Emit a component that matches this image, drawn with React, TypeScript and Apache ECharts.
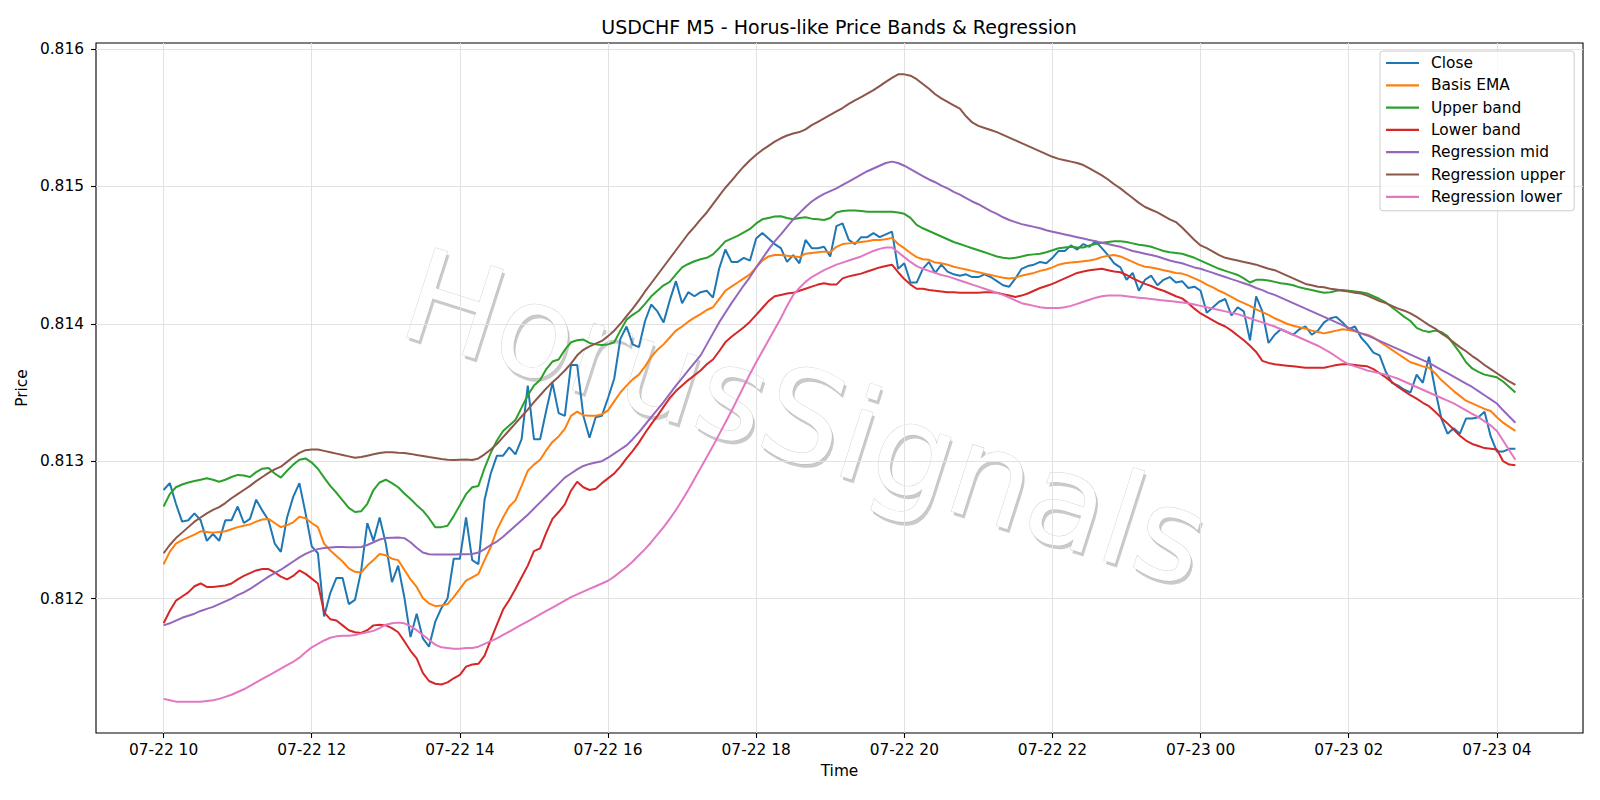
import React, { useEffect, useRef } from "react";
import * as echarts from "echarts";

// 5-minute bars from 07-22 10:00 (minutes since start)
const closeSeries = [
  0.81279,0.81284,0.81269,0.81256,0.81257,0.81262,0.81257,0.81242,0.81247,0.81242,
  0.81257,0.81257,0.81267,0.81255,0.81258,0.81272,0.81264,0.81257,0.8124,0.81234,
  0.81259,0.81274,0.81284,0.81262,0.81238,0.81233,0.81187,0.81204,0.81215,0.81215,
  0.81196,0.81199,0.8122,0.81255,0.81242,0.81259,0.8124,0.81212,0.81224,0.81201,
  0.81172,0.81189,0.81171,0.81165,0.81183,0.81193,0.812,0.81229,0.81229,0.81259,
  0.81228,0.81225,0.81272,0.81291,0.81304,0.81304,0.8131,0.81305,0.81316,0.81355,
  0.81316,0.81316,0.81337,0.81357,0.81335,0.81333,0.8137,0.8137,0.81333,0.81317,
  0.81332,0.81333,0.81346,0.8136,0.81389,0.81398,0.81385,0.81383,0.81402,0.81414,
  0.81409,0.81401,0.81417,0.81431,0.81415,0.81423,0.8142,0.81423,0.81424,0.81419,
  0.8144,0.81454,0.81445,0.81445,0.81448,0.81446,0.81462,0.81466,0.81462,0.81458,
  0.81455,0.81445,0.8145,0.81444,0.81461,0.81455,0.81455,0.81456,0.81449,0.81471,
  0.81473,0.81461,0.81458,0.81463,0.81463,0.81466,0.81463,0.81465,0.81467,0.8144,
  0.81444,0.8143,0.8143,0.8144,0.81445,0.81437,0.81443,0.81438,0.81436,0.81435,
  0.81436,0.81434,0.81434,0.81436,0.81434,0.81431,0.81428,0.81427,0.81433,0.8144,
  0.81442,0.81443,0.81445,0.81444,0.81448,0.81453,0.81453,0.81457,0.81454,0.81458,
  0.81456,0.8146,0.81455,0.8145,0.81444,0.81441,0.81432,0.81437,0.81424,0.81432,
  0.81435,0.81428,0.81432,0.81434,0.8143,0.81431,0.81426,0.81427,0.81424,0.81408,
  0.81412,0.81416,0.81418,0.81406,0.81412,0.81409,0.81388,0.8142,0.81409,0.81386,
  0.81392,0.81396,0.81394,0.81392,0.81396,0.81398,0.81392,0.81395,0.81401,0.81404,
  0.81405,0.81401,0.81396,0.81398,0.8139,0.81385,0.81379,0.81377,0.81365,0.81357,
  0.81355,0.81352,0.8135,0.81363,0.81357,0.81376,0.81352,0.81331,0.8132,0.81324,
  0.8132,0.81331,0.81331,0.81332,0.81336,0.81318,0.81307,0.81307,0.81309,0.81309,
];

const basisEma = [
  0.81225,0.81234,0.8124,0.812425,0.812445,0.812465,0.81249,0.812485,0.81248,0.812485,
  0.81249,0.812505,0.81252,0.81253,0.81254,0.81256,0.812575,0.81258,0.81255,0.81252,
  0.812535,0.812555,0.812595,0.812585,0.81255,0.81252,0.8124,0.81235,0.81231,0.81227,
  0.81222,0.812195,0.81219,0.81224,0.81228,0.812325,0.812315,0.81229,0.81228,0.81221,
  0.81214,0.812085,0.812005,0.811965,0.811945,0.81195,0.81196,0.81201,0.81207,0.81213,
  0.812155,0.81218,0.81228,0.812375,0.8125,0.81259,0.81267,0.812715,0.81282,0.81293,
  0.812975,0.81301,0.81308,0.81314,0.81318,0.813235,0.81333,0.81336,0.813335,0.81333,
  0.81333,0.81334,0.81337,0.813435,0.8135,0.81355,0.813595,0.81363,0.81369,0.81376,
  0.81381,0.81385,0.8139,0.81395,0.81398,0.814015,0.814045,0.81407,0.8141,0.81412,
  0.81418,0.81424,0.81427,0.8143,0.81433,0.81436,0.81441,0.81446,0.81449,0.8145,
  0.8145,0.814495,0.81449,0.814485,0.81451,0.814515,0.81452,0.814525,0.81452,0.81456,
  0.81458,0.814585,0.81459,0.814595,0.8146,0.81461,0.81461,0.814615,0.814625,0.81458,
  0.81455,0.814515,0.814485,0.81447,0.814465,0.814445,0.81444,0.81443,0.814415,0.814405,
  0.814395,0.814385,0.814375,0.814365,0.814355,0.814345,0.814335,0.81433,0.814335,0.81435,
  0.81436,0.81437,0.814385,0.814395,0.81441,0.81443,0.81444,0.814445,0.81445,0.814455,
  0.81446,0.81447,0.814485,0.814495,0.8145,0.81449,0.81447,0.81445,0.81443,0.814415,
  0.81441,0.8144,0.81439,0.81438,0.81437,0.814365,0.81435,0.81433,0.81431,0.814285,
  0.814265,0.81424,0.81422,0.814195,0.81417,0.81415,0.81413,0.814105,0.814085,0.814065,
  0.81404,0.81402,0.814,0.813985,0.813975,0.813965,0.81395,0.81394,0.81393,0.81394,
  0.81395,0.81396,0.813955,0.813945,0.81393,0.81392,0.8139,0.81387,0.81384,0.81381,
  0.81378,0.81375,0.81372,0.813705,0.81369,0.81368,0.81364,0.81359,0.81355,0.81351,
  0.813475,0.81344,0.81342,0.8134,0.81338,0.813365,0.81332,0.81328,0.81325,0.81322,
];

const upperBand = [
  0.81267,0.81276,0.81281,0.81283,0.812845,0.812855,0.812865,0.812875,0.812865,0.81285,
  0.812865,0.812885,0.8129,0.812895,0.812885,0.81292,0.812945,0.81295,0.81291,0.81288,
  0.81293,0.812975,0.81301,0.81302,0.81299,0.812945,0.81288,0.81282,0.81277,0.812715,
  0.81266,0.81263,0.812635,0.81269,0.81279,0.812845,0.812865,0.81284,0.81281,0.812765,
  0.812725,0.81268,0.81264,0.812585,0.81252,0.81252,0.81253,0.8126,0.81268,0.81276,
  0.81281,0.81282,0.81295,0.81306,0.81315,0.81322,0.81326,0.8133,0.81339,0.81348,
  0.81355,0.81359,0.81367,0.813725,0.81374,0.81381,0.813865,0.81388,0.813885,0.81386,
  0.81385,0.813845,0.81385,0.813865,0.81395,0.81403,0.814065,0.814095,0.814145,0.8142,
  0.81424,0.81428,0.814305,0.81436,0.81441,0.814435,0.814455,0.81447,0.81448,0.814505,
  0.81455,0.8146,0.81462,0.81464,0.814665,0.81469,0.81473,0.81476,0.81477,0.81478,
  0.814783,0.81477,0.81476,0.81477,0.814775,0.814765,0.81476,0.814755,0.81477,0.81481,
  0.81482,0.814825,0.814825,0.81482,0.814815,0.814815,0.814815,0.814815,0.814815,0.81481,
  0.8148,0.81477,0.81472,0.814695,0.814675,0.814655,0.814635,0.814615,0.814595,0.81458,
  0.814565,0.81455,0.814535,0.81452,0.814505,0.81449,0.81448,0.814475,0.81448,0.81449,
  0.8145,0.814505,0.81451,0.81452,0.814535,0.81455,0.814555,0.81456,0.814555,0.814555,
  0.81457,0.81458,0.81459,0.814595,0.8146,0.8146,0.814595,0.814585,0.814575,0.81457,
  0.81456,0.814545,0.81453,0.81452,0.814515,0.81451,0.814495,0.81448,0.81446,0.81444,
  0.81442,0.8144,0.814385,0.81437,0.814355,0.81433,0.8143,0.81432,0.81432,0.814315,
  0.814305,0.814295,0.81429,0.81428,0.814265,0.814255,0.814245,0.814235,0.814225,0.81423,
  0.81424,0.814245,0.81424,0.814235,0.81423,0.81422,0.8142,0.81418,0.814155,0.81412,
  0.814085,0.81405,0.81402,0.81397,0.81395,0.81394,0.81395,0.81394,0.81391,0.81385,
  0.81379,0.81372,0.813675,0.81365,0.81363,0.81362,0.81361,0.81358,0.81354,0.8135,
];

const lowerBand = [
  0.81182,0.81191,0.811985,0.812015,0.812045,0.81209,0.81211,0.812085,0.812085,0.81209,
  0.812095,0.81211,0.81214,0.812165,0.812185,0.812205,0.812215,0.812215,0.81219,0.81216,
  0.81214,0.812165,0.812205,0.81218,0.812145,0.81211,0.8119,0.81185,0.81184,0.811805,
  0.81177,0.811755,0.81175,0.81177,0.811805,0.81181,0.811805,0.811785,0.811755,0.81169,
  0.81162,0.811565,0.81146,0.8114,0.81138,0.811375,0.81139,0.81142,0.811445,0.811505,
  0.81152,0.811525,0.811585,0.8117,0.81181,0.81192,0.81199,0.81207,0.812155,0.81224,
  0.812345,0.812365,0.81248,0.81258,0.81263,0.812685,0.812785,0.81285,0.81281,0.81279,
  0.8128,0.81284,0.812875,0.81291,0.81296,0.81302,0.813075,0.813135,0.813205,0.81327,
  0.81333,0.813395,0.81346,0.81351,0.81355,0.81359,0.813625,0.81366,0.813705,0.81374,
  0.8138,0.813865,0.813905,0.81394,0.813975,0.814015,0.814065,0.814115,0.814165,0.8142,
  0.81421,0.81422,0.814225,0.81424,0.814255,0.81427,0.814285,0.814295,0.814285,0.814285,
  0.81433,0.814345,0.814355,0.814365,0.81438,0.814395,0.81441,0.81442,0.81443,0.814375,
  0.814325,0.814285,0.814255,0.814255,0.814245,0.81424,0.814235,0.81423,0.81423,0.814225,
  0.814225,0.814225,0.814225,0.81423,0.81423,0.814225,0.814215,0.814205,0.814195,0.814205,
  0.81422,0.81424,0.81426,0.814275,0.81429,0.81431,0.81433,0.81435,0.81437,0.81438,
  0.81439,0.814395,0.8144,0.81439,0.81438,0.814375,0.814355,0.81433,0.81431,0.81429,
  0.814275,0.814255,0.81424,0.81422,0.8142,0.814185,0.81415,0.81411,0.814075,0.81405,
  0.814025,0.814,0.81398,0.81395,0.813915,0.81388,0.81384,0.813795,0.81373,0.813715,
  0.813705,0.8137,0.813695,0.81369,0.813685,0.81368,0.81368,0.81368,0.81368,0.81369,
  0.8137,0.813705,0.813705,0.8137,0.813695,0.81369,0.81367,0.81364,0.81361,0.813575,
  0.81354,0.81351,0.81348,0.813455,0.813425,0.8134,0.81336,0.813315,0.813275,0.81323,
  0.813185,0.81315,0.813125,0.81311,0.813095,0.81309,0.813085,0.813,0.812975,0.81297,
];

const regressionMid = [
  0.811805,0.81182,0.81184,0.81186,0.811875,0.81189,0.81191,0.811925,0.81194,0.81196,
  0.81198,0.812,0.812025,0.812045,0.81207,0.8121,0.81213,0.81216,0.812185,0.81221,
  0.81224,0.81227,0.8123,0.812325,0.812345,0.81236,0.812368,0.812372,0.812375,0.812375,
  0.812373,0.812373,0.812375,0.81239,0.81241,0.81243,0.81244,0.812443,0.812445,0.81244,
  0.81241,0.81237,0.812335,0.812323,0.81232,0.81232,0.81232,0.81232,0.812322,0.812322,
  0.812325,0.812335,0.81236,0.81239,0.812415,0.81245,0.81249,0.81253,0.81257,0.81261,
  0.812655,0.8127,0.812745,0.81279,0.812835,0.81288,0.81291,0.81294,0.812965,0.81298,
  0.81299,0.813,0.813025,0.813055,0.813085,0.813115,0.81316,0.81321,0.813265,0.81332,
  0.813375,0.81343,0.81349,0.81355,0.813605,0.81366,0.813715,0.81377,0.81385,0.81393,
  0.81401,0.81408,0.81415,0.814215,0.81428,0.81434,0.81441,0.814475,0.81454,0.8146,
  0.81465,0.814705,0.81476,0.814805,0.81485,0.81489,0.81492,0.814945,0.814965,0.814985,
  0.81501,0.815035,0.81506,0.815085,0.81511,0.81513,0.81515,0.81517,0.81518,0.81517,
  0.81515,0.815125,0.8151,0.815075,0.81505,0.81503,0.815005,0.814985,0.81496,0.81494,
  0.814915,0.81489,0.81487,0.814845,0.81482,0.8148,0.814775,0.814755,0.81474,0.814725,
  0.814715,0.814705,0.814695,0.81468,0.81467,0.81466,0.81465,0.81464,0.81463,0.81462,
  0.81461,0.8146,0.81459,0.81458,0.81457,0.81456,0.814545,0.81453,0.81452,0.81451,
  0.8145,0.81449,0.814475,0.81446,0.81445,0.81444,0.814425,0.81441,0.8144,0.814385,
  0.81437,0.814355,0.81434,0.814325,0.81431,0.814295,0.81428,0.81426,0.814245,0.814225,
  0.81421,0.81419,0.81417,0.81415,0.81413,0.81411,0.81409,0.81407,0.81405,0.81403,
  0.81401,0.81399,0.81397,0.81395,0.81393,0.813915,0.813895,0.813875,0.813855,0.813835,
  0.813815,0.813795,0.813775,0.813755,0.813735,0.813715,0.81369,0.813665,0.81364,0.813615,
  0.81359,0.813565,0.81354,0.81351,0.81348,0.81345,0.81342,0.81337,0.813325,0.81328,
];

const regressionUpper = [
  0.81233,0.81239,0.81244,0.81248,0.81252,0.81256,0.81259,0.81262,0.812645,0.812665,
  0.812695,0.81273,0.81276,0.81279,0.81282,0.812855,0.812885,0.812915,0.81294,0.81296,
  0.812995,0.81303,0.81306,0.81308,0.813085,0.813085,0.813075,0.813065,0.813055,0.813045,
  0.813035,0.813025,0.81303,0.81304,0.81305,0.81306,0.813065,0.813065,0.813062,0.81306,
  0.813053,0.813045,0.813038,0.81303,0.813023,0.813015,0.81301,0.813008,0.81301,0.813012,
  0.813008,0.81302,0.81305,0.813085,0.813125,0.813175,0.813225,0.813275,0.813325,0.813375,
  0.81343,0.81348,0.81353,0.813575,0.813615,0.81366,0.81371,0.81377,0.81381,0.813835,
  0.813855,0.813875,0.81391,0.81395,0.814,0.814055,0.81411,0.81417,0.814235,0.814295,
  0.814355,0.814415,0.814475,0.814535,0.814595,0.814655,0.814705,0.81476,0.81481,0.81487,
  0.81493,0.81499,0.81504,0.815095,0.815145,0.81519,0.81523,0.815265,0.815295,0.815325,
  0.81535,0.81537,0.815385,0.815395,0.815415,0.815445,0.81547,0.815495,0.81552,0.815545,
  0.81557,0.8156,0.815625,0.81565,0.815675,0.8157,0.81573,0.81576,0.81579,0.815815,
  0.815815,0.815805,0.81578,0.815745,0.81571,0.81567,0.81564,0.815615,0.81559,0.815565,
  0.81551,0.815465,0.81544,0.815425,0.81541,0.815395,0.815375,0.815355,0.815335,0.815315,
  0.815295,0.815275,0.815255,0.815235,0.815215,0.8152,0.81519,0.81518,0.81517,0.815155,
  0.81513,0.815105,0.81508,0.81505,0.815015,0.814985,0.81495,0.814915,0.81488,0.81485,
  0.81483,0.81481,0.814785,0.81476,0.81474,0.8147,0.814655,0.81461,0.81457,0.81455,
  0.814525,0.8145,0.81448,0.81447,0.81446,0.81445,0.81444,0.81443,0.814415,0.8144,
  0.81439,0.81437,0.81435,0.81433,0.81431,0.81429,0.81428,0.81427,0.814265,0.814255,
  0.81425,0.81424,0.814235,0.814225,0.81422,0.814205,0.814185,0.814165,0.81415,0.81413,
  0.81411,0.814095,0.814075,0.81405,0.81402,0.81399,0.813965,0.81393,0.8139,0.813865,
  0.81383,0.8138,0.813765,0.813735,0.8137,0.81367,0.81364,0.81361,0.81358,0.813555,
];

const regressionLower = [
  0.81127,0.81126,0.81125,0.81125,0.81125,0.81125,0.81125,0.811255,0.81126,0.81127,
  0.811285,0.8113,0.81132,0.81134,0.811365,0.81139,0.811415,0.81144,0.811465,0.81149,
  0.811515,0.81154,0.81157,0.81161,0.811645,0.81167,0.811695,0.811715,0.811725,0.81173,
  0.81173,0.811735,0.811745,0.811755,0.811765,0.811785,0.81181,0.81182,0.811825,0.81182,
  0.8118,0.81177,0.811735,0.8117,0.811665,0.811645,0.81164,0.811635,0.811635,0.81164,
  0.81164,0.81165,0.81167,0.81169,0.81171,0.811735,0.81176,0.811785,0.81181,0.811835,
  0.81186,0.811885,0.81191,0.811935,0.81196,0.811985,0.81201,0.81203,0.81205,0.81207,
  0.81209,0.81211,0.81213,0.81216,0.812195,0.81223,0.81227,0.812315,0.81236,0.81241,
  0.812465,0.81252,0.81258,0.812645,0.812715,0.81279,0.81287,0.81295,0.81303,0.81311,
  0.813195,0.81328,0.813365,0.813455,0.813545,0.813635,0.81372,0.8138,0.81388,0.81396,
  0.81404,0.81413,0.81421,0.81426,0.814305,0.81434,0.814365,0.81439,0.81441,0.81443,
  0.814445,0.81446,0.814475,0.81449,0.81451,0.81453,0.814545,0.814555,0.814555,0.81452,
  0.814485,0.81445,0.81442,0.8144,0.814385,0.81437,0.814355,0.814345,0.81433,0.814315,
  0.8143,0.814285,0.81427,0.814255,0.81424,0.814225,0.81421,0.81419,0.81417,0.81415,
  0.81414,0.81413,0.81412,0.814115,0.814115,0.814115,0.81412,0.81413,0.814145,0.81416,
  0.814175,0.81419,0.8142,0.814205,0.814205,0.814205,0.8142,0.814195,0.81419,0.814185,
  0.81418,0.814175,0.81417,0.814165,0.81416,0.814155,0.81415,0.81414,0.81413,0.81412,
  0.81411,0.8141,0.81409,0.81408,0.81407,0.814055,0.81404,0.814025,0.81401,0.813995,
  0.81398,0.81396,0.81394,0.81392,0.8139,0.81388,0.81386,0.81384,0.813815,0.81379,
  0.81376,0.81373,0.813705,0.81369,0.813675,0.81366,0.81365,0.81364,0.81363,0.813615,
  0.8136,0.81358,0.81356,0.81354,0.81352,0.8135,0.81348,0.81346,0.81344,0.81342,
  0.813395,0.81337,0.813345,0.81332,0.81329,0.81326,0.81322,0.81315,0.81308,0.81301,
];

const barMinutes = 5;
const xTickValues = [0, 120, 240, 360, 480, 600, 720, 840, 960, 1080];
const xTickLabels = [
  "07-22 10", "07-22 12", "07-22 14", "07-22 16", "07-22 18",
  "07-22 20", "07-22 22", "07-23 00", "07-23 02", "07-23 04",
];
const yTickValues = [0.812, 0.813, 0.814, 0.815, 0.816];

const seriesNames = [
  "Close", "Basis EMA", "Upper band", "Lower band",
  "Regression mid", "Regression upper", "Regression lower",
];
const seriesColors = ["#1f77b4", "#ff7f0e", "#2ca02c", "#d62728", "#9467bd", "#8c564b", "#e377c2"];
const seriesValues = [closeSeries, basisEma, upperBand, lowerBand, regressionMid, regressionUpper, regressionLower];

const FONT = "DejaVu Sans, Liberation Sans, sans-serif";

export default function App() {
  const ref = useRef<HTMLDivElement>(null);
  useEffect(() => {
    document.body.style.margin = "0";
    if (!ref.current) return;
    const chart = echarts.init(ref.current, null, { renderer: "svg" });

    const n = closeSeries.length;
    const xMaxData = (n - 1) * barMinutes;
    const xPad = xMaxData * 0.05;
    let lo = Infinity, hi = -Infinity;
    seriesValues.forEach((arr) => arr.forEach((v) => { lo = Math.min(lo, v); hi = Math.max(hi, v); }));
    const yPad = (hi - lo) * 0.05;

    const series = seriesValues.map((arr, k) => ({
      name: seriesNames[k],
      type: "line",
      data: arr.map((v, i) => [i * barMinutes, v]),
      symbol: "none",
      showSymbol: false,
      lineStyle: { width: 2, color: seriesColors[k] },
      itemStyle: { color: seriesColors[k] },
      emphasis: { disabled: true },
      z: 2,
    }));

    const option: any = {
      animation: false,
      backgroundColor: "#ffffff",
      textStyle: { fontFamily: FONT },
      grid: {
        left: 96, right: 17, top: 43, bottom: 67,
        show: true, borderColor: "#000", borderWidth: 1.1, backgroundColor: "transparent",
        containLabel: false, outerBoundsMode: "none",
      },
      legend: {
        orient: "vertical",
        left: 1380, top: 51,
        padding: [4, 9, 6, 6],
        icon: "rect",
        itemWidth: 33, itemHeight: 2.2, itemGap: 6.3,
        backgroundColor: "rgba(255,255,255,0.8)",
        borderColor: "#cccccc", borderWidth: 1, borderRadius: 3,
        textStyle: { fontFamily: FONT, fontSize: 15.4, color: "#000", lineHeight: 16, padding: [0, 0, 0, 7] },
        data: seriesNames,
        selectedMode: false,
      },
      xAxis: {
        type: "value",
        min: -xPad, max: xMaxData + xPad,
        name: "Time", nameLocation: "middle", nameGap: 30,
        nameTextStyle: { fontFamily: FONT, fontSize: 15.4, color: "#000" },
        axisLine: { show: false, onZero: false },
        axisTick: { show: true, inside: false, length: 5, lineStyle: { color: "#000", width: 1.1 }, customValues: xTickValues },
        axisLabel: {
          customValues: xTickValues, margin: 9, color: "#000", fontFamily: FONT, fontSize: 15.4,
          formatter: (v: number) => { const k = xTickValues.indexOf(Math.round(v)); return k >= 0 ? xTickLabels[k] : ""; },
        },
        splitLine: { show: true, lineStyle: { color: "#e2e2e2", width: 1 } },
      },
      yAxis: {
        type: "value",
        min: lo - yPad, max: hi + yPad,
        name: "Price", nameLocation: "middle", nameGap: 62,
        nameTextStyle: { fontFamily: FONT, fontSize: 15.4, color: "#000" },
        axisLine: { show: false, onZero: false },
        axisTick: { show: true, inside: false, length: 5, lineStyle: { color: "#000", width: 1.1 }, customValues: yTickValues },
        axisLabel: {
          customValues: yTickValues, margin: 12, color: "#000", fontFamily: FONT, fontSize: 15.4,
          formatter: (v: number) => v.toFixed(3),
        },
        splitLine: { show: true, lineStyle: { color: "#e2e2e2", width: 1 } },
      },
      graphic: [
        {
          type: "text", z: 10, x: 839, y: 26.5,
          style: {
            text: "USDCHF M5 - Horus-like Price Bands & Regression",
            fontFamily: FONT, fontSize: 19, fill: "#000",
            textAlign: "center", textVerticalAlign: "middle",
          },
        },
        {
          type: "group", z: -10, x: 806, y: 418, rotation: -0.31, silent: true,
          children: [
            {
              type: "text", z: -10, x: 3, y: 3,
              style: {
                text: "HorusSignals", fontFamily: FONT, fontSize: 128,
                fill: "rgba(150,150,150,0.5)", textAlign: "center", textVerticalAlign: "middle",
              },
            },
            {
              type: "text", z: -9, x: 0, y: 0,
              style: {
                text: "HorusSignals", fontFamily: FONT, fontSize: 128,
                fill: "#ffffff", stroke: "rgba(175,175,175,0.55)", lineWidth: 1,
                textAlign: "center", textVerticalAlign: "middle",
              },
            },
          ],
        },
      ],
      series,
    };
    chart.setOption(option);
    return () => chart.dispose();
  }, []);
  return <div ref={ref} style={{ width: 1600, height: 800 }} />;
}
